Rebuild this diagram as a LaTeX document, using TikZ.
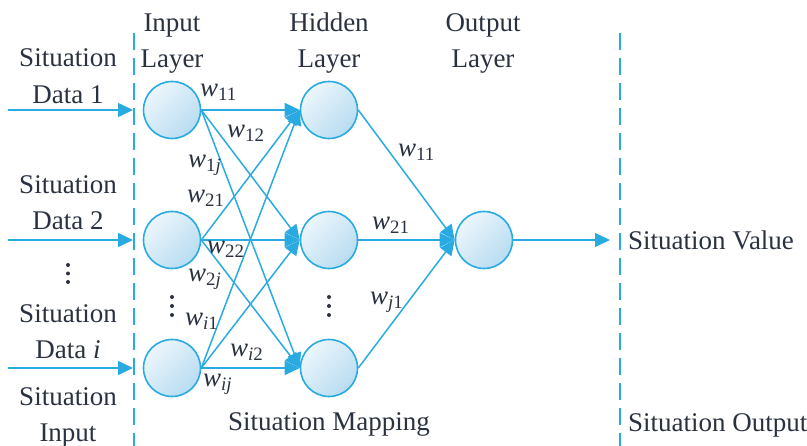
\documentclass[tikz,border=0pt]{standalone}
\usepackage{fontspec}
\setmainfont{Liberation Serif}
\usetikzlibrary{arrows.meta}
\definecolor{lb}{RGB}{41,171,226}
\definecolor{txt}{RGB}{42,50,64}
\definecolor{fillA}{RGB}{236,246,252}
\definecolor{fillB}{RGB}{184,220,241}
\newcommand\wlab[1]{\textit{w}\textsubscript{#1}}
\begin{document}
\begin{tikzpicture}[x=1pt,y=-1pt,
  neuron/.style={circle, draw=lb, line width=1.6pt, minimum size=57pt, inner sep=0pt,
                 top color=fillA, bottom color=fillB, shading angle=45},
  conn/.style={draw=lb, line width=1.5pt},
  tip/.style={-{Triangle[length=15pt,width=14pt]}},
  lbl/.style={text=txt, font=\fontsize{27}{32}\selectfont, inner sep=0pt},
  wl/.style={lbl, anchor=base west},
  sep/.style={draw=lb, line width=1.8pt, dash pattern=on 17pt off 8pt},
  dotmark/.style={circle, fill=txt, inner sep=0pt, minimum size=4pt}]
\useasboundingbox (0,0) rectangle (807,446);

% separators
\coordinate (dl1) at (134,33); \coordinate (dl2) at (134,446);
\coordinate (dr1) at (620,33); \coordinate (dr2) at (620,446);
\draw[sep] (dl1) -- (dl2);
\draw[sep] (dr1) -- (dr2);

% neurons
\node[neuron] (i1) at (172,110) {};
\node[neuron] (i2) at (172,240) {};
\node[neuron] (i3) at (172,368) {};
\node[neuron] (h1) at (329,110) {};
\node[neuron] (h2) at (329,240) {};
\node[neuron] (h3) at (329,368) {};
\node[neuron] (o)  at (484,240) {};

% input arrows
\coordinate (s1) at (8,110); \coordinate (e1) at (133,110);
\coordinate (s2) at (8,240); \coordinate (e2) at (133,240);
\coordinate (s3) at (8,368); \coordinate (e3) at (133,368);
\draw[conn,tip] (s1) -- (e1);
\draw[conn,tip] (s2) -- (e2);
\draw[conn,tip] (s3) -- (e3);

% connections
\foreach \a in {1,2,3}{\foreach \b in {1,2,3}{\draw[conn,tip] (i\a.east) -- (h\b.west);}}
\foreach \b in {1,2,3}{\draw[conn,tip] (h\b.east) -- (o.west);}
\coordinate (oe) at (610,240);
\draw[conn,tip] (o.east) -- (oe);

% left texts
\node[lbl, anchor=base] (l1a) at (68,67) {Situation};
\node[lbl, anchor=base] (l1b) at (68,104) {Data 1};
\node[lbl, anchor=base] (l2a) at (68,194) {Situation};
\node[lbl, anchor=base] (l2b) at (68,230) {Data 2};
\node[lbl, anchor=base] (l3a) at (68,323) {Situation};
\node[lbl, anchor=base] (l3b) at (68,359) {Data \textit{i}};
\node[lbl, anchor=base] (l4a) at (68,406) {Situation};
\node[lbl, anchor=base] (l4b) at (68,442) {Input};

% headers
\node[lbl, anchor=base] (hi1) at (172,32) {Input};
\node[lbl, anchor=base] (hi2) at (172,68) {Layer};
\node[lbl, anchor=base] (hh1) at (329,32) {Hidden};
\node[lbl, anchor=base] (hh2) at (329,68) {Layer};
\node[lbl, anchor=base] (ho1) at (483,32) {Output};
\node[lbl, anchor=base] (ho2) at (483,68) {Layer};

% right / bottom texts
\node[lbl, anchor=base west] (sv) at (628,250) {Situation Value};
\node[lbl, anchor=base west] (so) at (628,432) {Situation Output};
\node[lbl, anchor=base] (sm) at (329,431) {Situation Mapping};

% weights
\node[wl] (w11) at (200,97) {\wlab{11}};
\node[wl] (w12) at (227,138) {\wlab{12}};
\node[wl] (w1j) at (188,168) {\wlab{1\textit{j}}};
\node[wl] (w21) at (187,203) {\wlab{21}};
\node[wl] (w22) at (207,254) {\wlab{22}};
\node[wl] (w2j) at (188,282) {\wlab{2\textit{j}}};
\node[wl] (wi1) at (185,326) {\wlab{\textit{i}1}};
\node[wl] (wi2) at (230,357) {\wlab{\textit{i}2}};
\node[wl] (wij) at (203,387) {\wlab{\textit{ij}}};
\node[wl] (v11) at (398,157) {\wlab{11}};
\node[wl] (v21) at (372,230) {\wlab{21}};
\node[wl] (vj1) at (370,305) {\wlab{\textit{j}1}};

% vertical dots
\foreach \y [count=\k] in {265,273.5,282}{\node[dotmark] (dl\k) at (68,\y) {};}
\foreach \y [count=\k] in {297,306,315}{\node[dotmark] (di\k) at (172,\y) {};}
\foreach \y [count=\k] in {297,306,315}{\node[dotmark] (dh\k) at (329,\y) {};}
\end{tikzpicture}
\end{document}
